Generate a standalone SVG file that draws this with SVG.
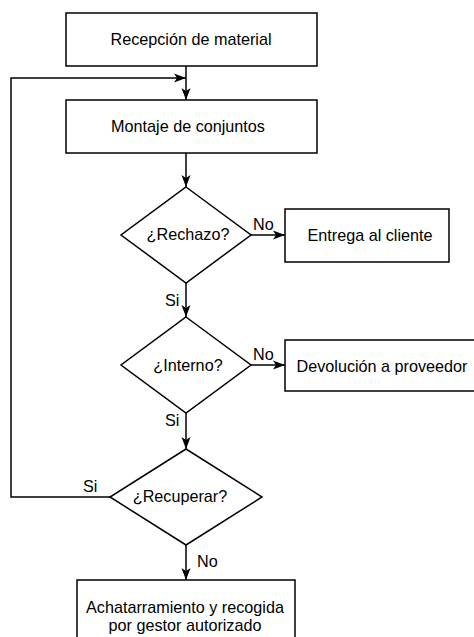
<svg xmlns="http://www.w3.org/2000/svg" width="474" height="637" viewBox="0 0 474 637">
<style>
.n{fill:#fff;stroke:#000;stroke-width:1.5}
.t{font-family:"Liberation Sans",Arial,sans-serif;font-size:16.2px;fill:#000;text-anchor:middle}
.l{font-family:"Liberation Sans",Arial,sans-serif;font-size:16.2px;fill:#000}
.c{fill:none;stroke:#000;stroke-width:1.5}
</style>
<defs>
<marker id="a" markerUnits="userSpaceOnUse" markerWidth="13" markerHeight="11" refX="12" refY="5.5" orient="auto">
<path d="M0,1 L12,5.5 L0,10 L3,5.5 z" fill="#000"/>
</marker>
</defs>
<rect width="474" height="637" fill="#fff"/>
<g id="connectors">
<path class="c" d="M186,66 V100" marker-end="url(#a)"/>
<path class="c" d="M110,497 H11 V78 H186" marker-end="url(#a)"/>
<path class="c" d="M186,153 V187" marker-end="url(#a)"/>
<path class="c" d="M251,235 H285" marker-end="url(#a)"/>
<path class="c" d="M186,283 V317" marker-end="url(#a)"/>
<path class="c" d="M251,365 H285" marker-end="url(#a)"/>
<path class="c" d="M186,413 V449" marker-end="url(#a)"/>
<path class="c" d="M186,545 V580" marker-end="url(#a)"/>
<text class="l" x="253" y="230">No</text>
<text class="l" x="165" y="306">Si</text>
<text class="l" x="253" y="360">No</text>
<text class="l" x="165" y="426">Si</text>
<text class="l" x="83" y="492">Si</text>
<text class="l" x="197" y="567">No</text>
</g>
<g id="recepcion">
<rect class="n" x="66" y="13" width="251" height="53"/>
<text class="t" x="191" y="45">Recepción de material</text>
</g>
<g id="montaje">
<rect class="n" x="66" y="100" width="251" height="53"/>
<text class="t" x="188" y="132">Montaje de conjuntos</text>
</g>
<g id="rechazo">
<polygon class="n" points="186,187 251,235 186,283 121,235"/>
<text class="t" x="188" y="240">¿Rechazo?</text>
</g>
<g id="entrega">
<rect class="n" x="285" y="209" width="164" height="53"/>
<text class="t" x="370" y="241">Entrega al cliente</text>
</g>
<g id="interno">
<polygon class="n" points="186,317 251,365 186,413 121,365"/>
<text class="t" x="188" y="371">¿Interno?</text>
</g>
<g id="devolucion">
<rect class="n" x="285" y="340" width="200" height="51"/>
<text class="t" x="382" y="372">Devolución a proveedor</text>
</g>
<g id="recuperar">
<polygon class="n" points="186,449 262,497 186,545 110,497"/>
<text class="t" x="180" y="502">¿Recuperar?</text>
</g>
<g id="achatarramiento">
<rect class="n" x="77" y="580" width="218" height="70"/>
<text class="t" x="185" y="613">Achatarramiento y recogida</text>
<text class="t" x="185" y="631">por gestor autorizado</text>
</g>
</svg>
